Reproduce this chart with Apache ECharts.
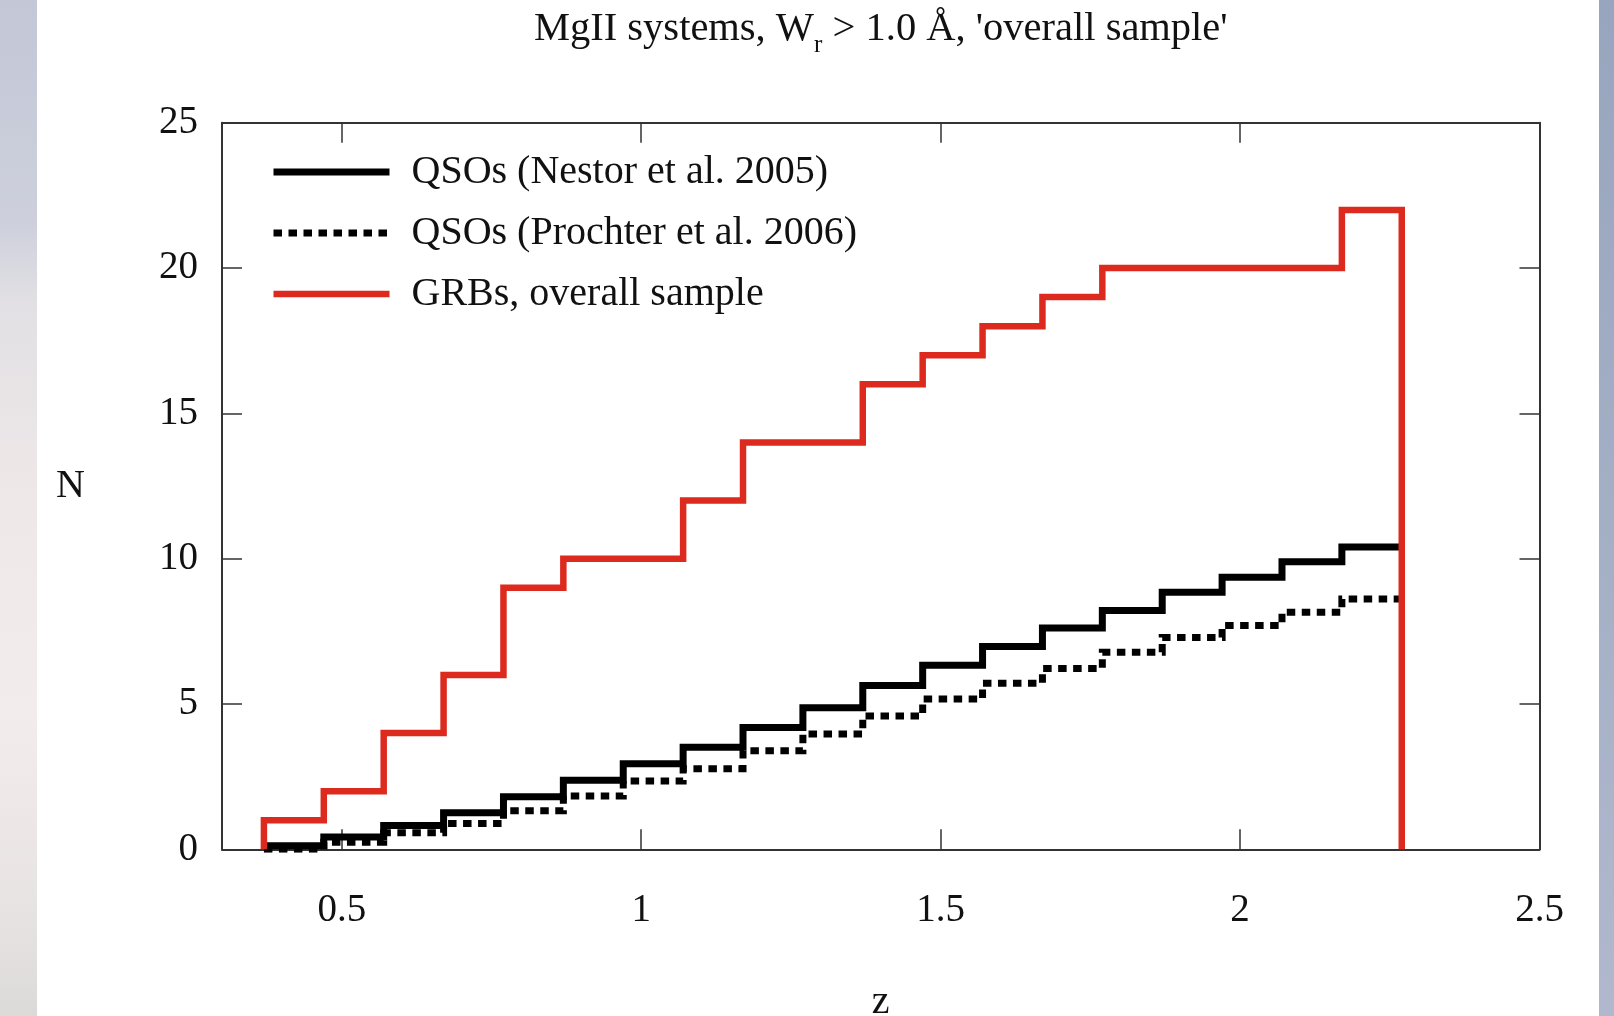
<!DOCTYPE html>
<html>
<head>
<meta charset="utf-8">
<script src="https://cdn.jsdelivr.net/npm/echarts@6/dist/echarts.min.js"></script>
<style>
  html, body { margin: 0; padding: 0; background: #fff; }
  #stripL {
    position: absolute; left: 0; top: 0; width: 37px; height: 1016px;
    background: linear-gradient(to bottom, #c3c7d6 0%, #cdd0dc 22%, #e2e0e4 30%, #efe8e8 50%, #f3ecec 70%, #e8e4e3 88%, #dcdad9 100%);
  }
  #stripR {
    position: absolute; left: 1599px; top: 0; width: 15px; height: 1016px;
    background: linear-gradient(to bottom, #97a5be 0%, #a3afc5 50%, #b1b8cd 100%);
  }
  #chart { position: absolute; left: 0; top: 0; width: 1614px; height: 1016px; }
</style>
</head>
<body>
<div id="stripL"></div>
<div id="stripR"></div>
<div id="chart"></div>
<script>
// bin edges in z
var zEdges = [0.37, 0.47, 0.57, 0.67, 0.77, 0.87, 0.97, 1.07, 1.17, 1.27,
              1.37, 1.47, 1.57, 1.67, 1.77, 1.87, 1.97, 2.07, 2.17, 2.27]
// cumulative N per bin
var nestor   = [0.12, 0.42, 0.82, 1.26, 1.81, 2.38, 2.94, 3.51, 4.19, 4.87,
                5.64, 6.33, 6.98, 7.61, 8.22, 8.84, 9.36, 9.89, 10.40]
var prochter = [0, 0.24, 0.57, 0.89, 1.33, 1.83, 2.35, 2.77, 3.39, 3.97,
                4.59, 5.17, 5.71, 6.22, 6.78, 7.29, 7.70, 8.16, 8.61]
var grb      = [1, 2, 4, 6, 9, 10, 10, 12, 14, 14,
                16, 17, 18, 19, 20, 20, 20, 20, 22]
var xTicks = [0.5, 1, 1.5, 2, 2.5]
var yTicks = [0, 5, 10, 15, 20, 25]
var names = ['QSOs (Nestor et al. 2005)', 'QSOs (Prochter et al. 2006)', 'GRBs, overall sample']

var FONT = '"Liberation Serif", "Times New Roman", serif'
var RED = '#dc2a1e'

function steps(vals, closed) {
  var pts = []
  if (closed) pts.push([zEdges[0], 0])
  for (var i = 0; i < vals.length; i++) {
    pts.push([zEdges[i], vals[i]])
    pts.push([zEdges[i + 1], vals[i]])
  }
  if (closed) pts.push([zEdges[vals.length], 0])
  return pts
}

var axisLine = { onZero: false, lineStyle: { color: '#333', width: 2 } }
var tick = { inside: true, length: 20, lineStyle: { color: '#333', width: 1.5 } }
var hidden = { color: 'rgba(0,0,0,0)' }

var chart = echarts.init(document.getElementById('chart'))
chart.setOption({
  animation: false,
  title: {
    left: 534, top: 0, padding: 0,
    text: '{a|MgII systems, W}{s|r}{a| > 1.0 Å, \'overall sample\'}',
    textStyle: {
      rich: {
        a: { fontFamily: FONT, fontSize: 40.5, fontWeight: 'normal', color: '#111', lineHeight: 58 },
        s: { fontFamily: FONT, fontSize: 25, fontWeight: 'normal', color: '#111', lineHeight: 6, verticalAlign: 'bottom' }
      }
    }
  },
  legend: {
    left: 270, top: 152, orient: 'vertical', padding: 0,
    itemWidth: 116, itemHeight: 14, itemGap: 21,
    selectedMode: false,
    data: names,
    lineStyle: { width: 'inherit' },
    itemStyle: { opacity: 0 },
    formatter: function (n) { return '{t|' + n + '}' },
    textStyle: {
      rich: { t: { fontFamily: FONT, fontSize: 40, color: '#111', lineHeight: 40, padding: [0, 0, 0, 17] } }
    }
  },
  grid: { left: 222, right: 74.5, top: 122.7, bottom: 166.7, outerBoundsMode: 'none', containLabel: false },
  xAxis: [{
    type: 'value', min: 0.3, max: 2.5,
    name: 'z', nameLocation: 'middle', nameGap: 133,
    nameTextStyle: { fontFamily: FONT, fontSize: 40, color: '#111' },
    axisLine: axisLine, splitLine: { show: false },
    axisTick: Object.assign({ customValues: xTicks.slice(0, 4) }, tick),
    axisLabel: { customValues: xTicks, margin: 42, fontFamily: FONT, fontSize: 39, color: '#111' }
  }, {
    type: 'value', min: 0.3, max: 2.5, position: 'top',
    axisLine: axisLine, splitLine: { show: false },
    axisTick: Object.assign({ customValues: xTicks.slice(0, 4) }, tick),
    axisLabel: { show: false }
  }],
  yAxis: [{
    type: 'value', min: 0, max: 25, interval: 5,
    name: 'N', nameLocation: 'middle', nameGap: 137, nameRotate: 0,
    nameTextStyle: { fontFamily: FONT, fontSize: 40, color: '#111' },
    axisLine: axisLine, splitLine: { show: false },
    axisTick: Object.assign({ customValues: yTicks.slice(1, 5) }, tick),
    axisLabel: { customValues: yTicks, margin: 24, fontFamily: FONT, fontSize: 39, color: '#111' }
  }, {
    type: 'value', min: 0, max: 25, interval: 5, position: 'right',
    axisLine: axisLine, splitLine: { show: false },
    axisTick: Object.assign({ customValues: yTicks.slice(1, 5) }, tick),
    axisLabel: { show: false }
  }],
  series: [{
    name: names[0], type: 'line', symbol: 'none', data: steps(nestor, false),
    itemStyle: hidden,
    lineStyle: { color: '#000', width: 7, cap: 'butt', join: 'miter' }
  }, {
    name: names[1], type: 'line', symbol: 'none', data: steps(prochter, false),
    itemStyle: hidden,
    lineStyle: { color: '#000', width: 7, type: [8.5, 6.5], cap: 'butt', join: 'miter' }
  }, {
    name: names[2], type: 'line', symbol: 'none', data: steps(grb, true),
    itemStyle: hidden,
    lineStyle: { color: RED, width: 6.5, cap: 'butt', join: 'miter' }
  }]
})
</script>
</body>
</html>
